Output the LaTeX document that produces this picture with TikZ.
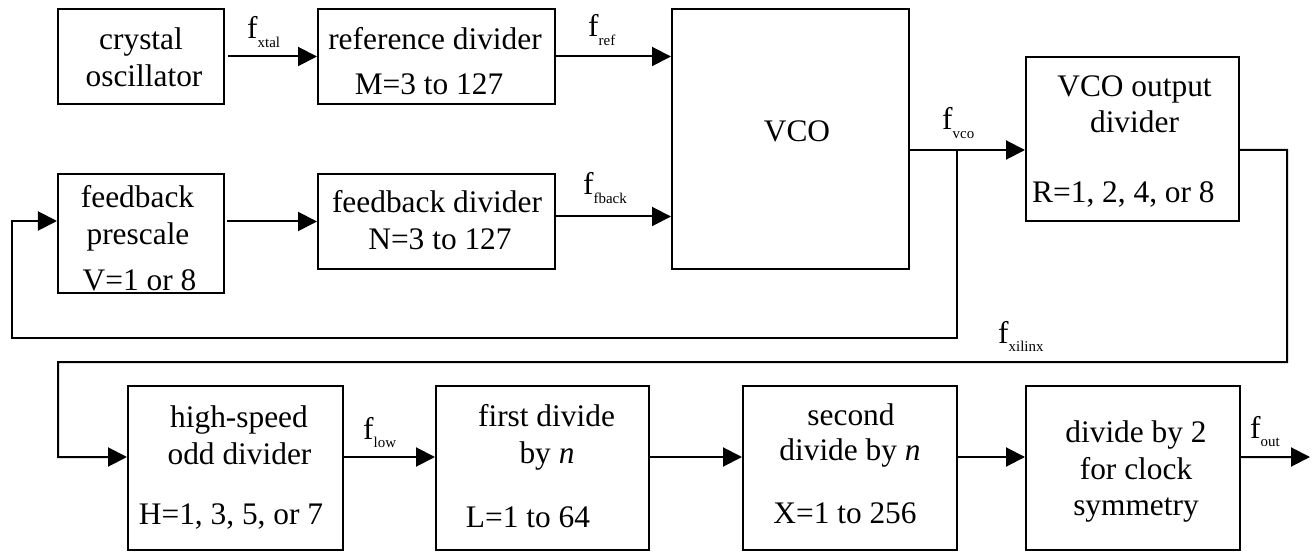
\documentclass[tikz,border=0pt]{standalone}
\usepackage{fontspec}
\setmainfont{Liberation Serif}
\usetikzlibrary{arrows.meta,calc}
% signal name: an f with a small lowered subscript
\newcommand{\fsub}[1]{f\raisebox{-8.5bp}{\fontsize{15}{15}\selectfont #1}}
\begin{document}
\begin{tikzpicture}[x=1bp,y=-1bp,
  every node/.style={inner sep=0pt, font=\fontsize{31.5}{37}\selectfont},
  blk/.style={draw, line width=2bp, rectangle},
  lbl/.style={anchor=base},
  sig/.style={anchor=base west},
  wire/.style={line width=2bp},
  arr/.style={wire, -{Triangle[length=19bp,width=19bp]}}]
\useasboundingbox (0,0) rectangle (1312,552);

% blocks
\node[blk, minimum width=166bp, minimum height=95bp]  (cx)  at (141,56.5) {};
\node[blk, minimum width=237bp, minimum height=95bp]  (rd)  at (436.5,56.5) {};
\node[blk, minimum width=237bp, minimum height=260bp] (vco) at (790.5,139) {};
\node[blk, minimum width=213bp, minimum height=164bp] (od)  at (1132.5,139) {};
\node[blk, minimum width=166bp, minimum height=119bp] (pre) at (141,233.5) {};
\node[blk, minimum width=237bp, minimum height=95bp]  (fd)  at (436.5,221.5) {};
\node[blk, minimum width=215bp, minimum height=164bp] (hs)  at (235.5,468) {};
\node[blk, minimum width=213bp, minimum height=164bp] (fdv) at (542.5,468) {};
\node[blk, minimum width=214bp, minimum height=164bp] (sdv) at (850,468) {};
\node[blk, minimum width=214bp, minimum height=164bp] (dtwo) at (1133,468) {};

% block texts
\node[lbl] (cx1) at (141,50) {crystal};
\node[lbl] (cx2) at (144,87) {oscillator};
\node[lbl] (rd1) at (435,50) {reference divider};
\node[lbl] (rd2) at (429,95) {M=3 to 127};
\node[lbl] (vco1) at (797,142) {VCO};
\node[lbl] (od1) at (1134.5,97) {VCO output};
\node[lbl] (od2) at (1134.5,133) {divider};
\node[anchor=base west] (od3) at (1032,203) {R=1, 2, 4, or 8};
\node[lbl] (pre1) at (137.5,208) {feedback};
\node[lbl] (pre2) at (138,245) {prescale};
\node[lbl] (pre3) at (139.5,290) {V=1 or 8};
\node[lbl] (fd1) at (437,213) {feedback divider};
\node[lbl] (fd2) at (440,250) {N=3 to 127};
\node[lbl] (hs1) at (239,427) {high-speed};
\node[lbl] (hs2) at (239.5,464) {odd divider};
\node[lbl] (hs3) at (231,524) {H=1, 3, 5, or 7};
\node[lbl] (fdv1) at (546.5,426) {first divide};
\node[lbl] (fdv2) at (547,463) {by \textit{n}};
\node[lbl] (fdv3) at (528,527) {L=1 to 64};
\node[lbl] (sdv1) at (851,425) {second};
\node[lbl] (sdv2) at (850,460) {divide by \textit{n}};
\node[lbl] (sdv3) at (845,523) {X=1 to 256};
\node[lbl] (dtwo1) at (1136,442) {divide by 2};
\node[lbl] (dtwo2) at (1136,479) {for clock};
\node[lbl] (dtwo3) at (1136,515) {symmetry};

% signal names
\node[sig] (sxtal)   at (247,39)   {\fsub{xtal}};
\node[sig] (sref)    at (588,37)   {\fsub{ref}};
\node[sig] (sfback)  at (583,195)  {\fsub{fback}};
\node[sig] (svco)    at (942,130)  {\fsub{vco}};
\node[sig] (sxilinx) at (998,343)  {\fsub{xilinx}};
\node[sig] (slow)    at (363,439)  {\fsub{low}};
\node[sig] (sout)    at (1250,438) {\fsub{out}};

% routing points
\coordinate (xo) at ([xshift=3bp]cx.east);
\coordinate (po) at (227,221.5);
\coordinate (fo) at ([yshift=5bp]fd.east);
\coordinate (vo) at ([yshift=-11bp]vco.east);
\coordinate (br) at (957,150);
\coordinate (fb1) at (957,338);
\coordinate (fb2) at (12,338);
\coordinate (fb3) at (12,221);
\coordinate (oo) at ([yshift=-11bp]od.east);
\coordinate (r1) at (1287,150);
\coordinate (r2) at (1287,362);
\coordinate (r3) at (58,362);
\coordinate (r4) at (58,457);
\coordinate (fout) at (1310,457);

% connectors
\draw[arr] (xo) -- (rd.west);
\draw[arr] (rd.east) -- (rd.east -| vco.west);
\draw[arr] (po) -- (fd.west);
\draw[arr] (fo) -- (fo -| vco.west);
\draw[arr] (vo) -- (vo -| od.west);
\draw[arr] (br) -- (fb1) -- (fb2) -- (fb3) -- (fb3 -| pre.west);
\draw[arr] (oo) -- (r1) -- (r2) -- (r3) -- (r4) -- (r4 -| hs.west);
\draw[arr] ([yshift=11bp]hs.east) -- ([yshift=11bp]fdv.west);
\draw[arr] ([yshift=11bp]fdv.east) -- ([yshift=11bp]sdv.west);
\draw[arr] ([yshift=11bp]sdv.east) -- ([yshift=11bp]dtwo.west);
\draw[arr] ([yshift=11bp]dtwo.east) -- (fout);
\end{tikzpicture}
\end{document}
